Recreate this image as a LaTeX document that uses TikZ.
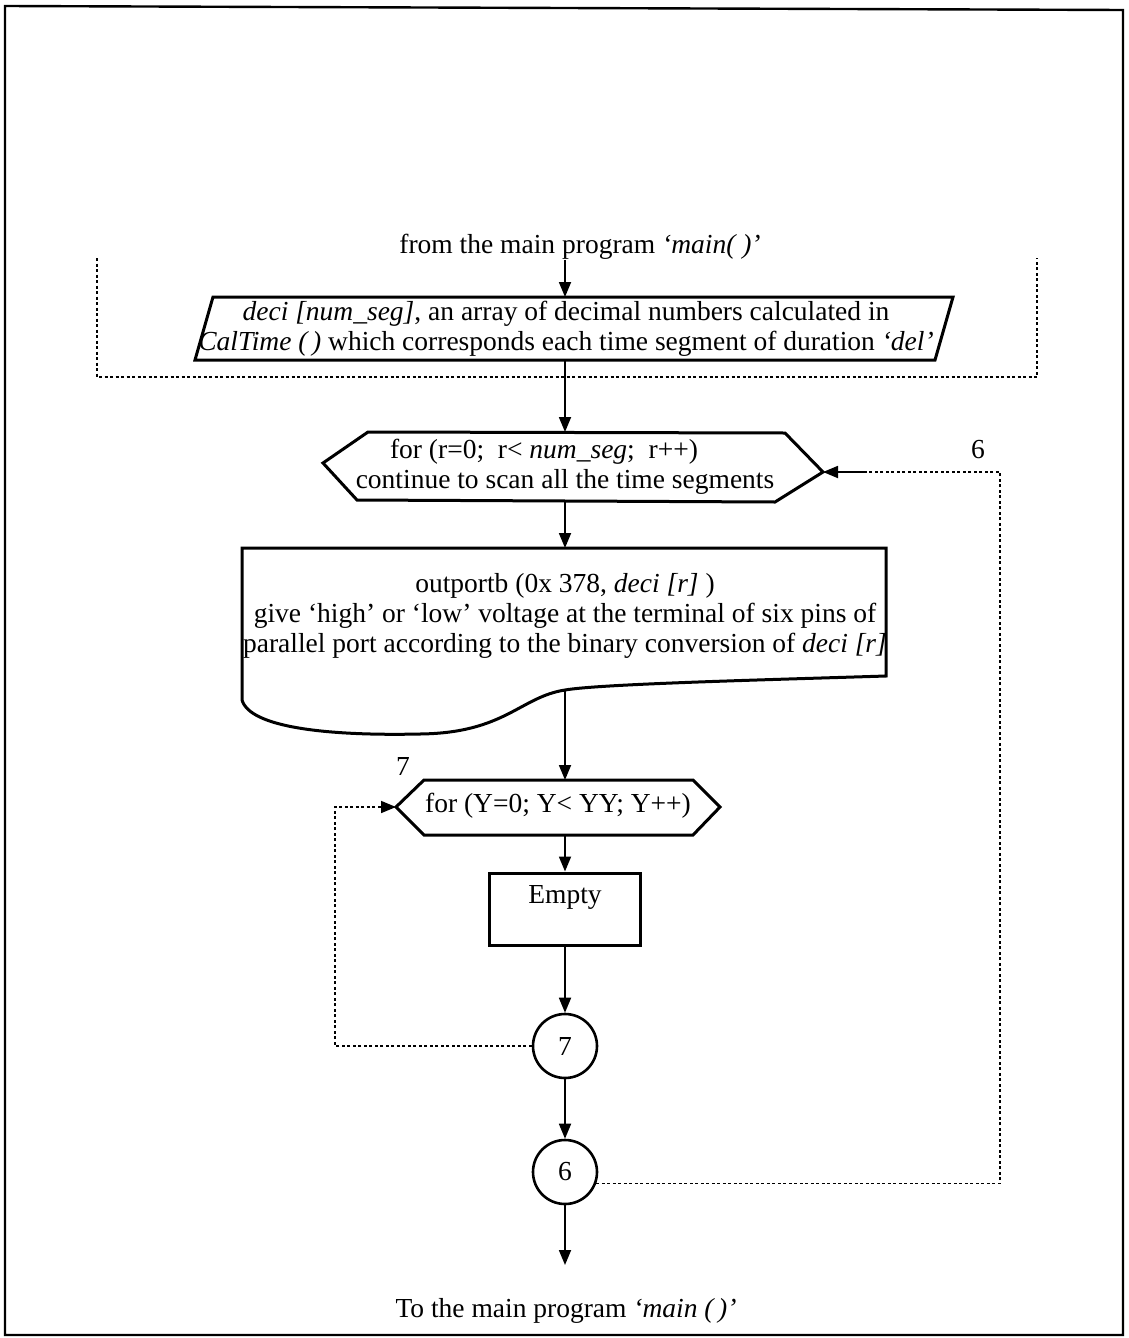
\documentclass[tikz,border=0pt]{standalone}
\usepackage{fontspec}
\setmainfont{Liberation Serif}
\usetikzlibrary{arrows.meta}
\begin{document}
\begin{tikzpicture}[x=1pt,y=-1pt,
  outline/.style={line width=3pt, line join=miter},
  flow/.style={line width=1.8pt, -{Triangle[length=15pt,width=12pt]}},
  loopline/.style={line width=1.6pt, dash pattern=on 3pt off 2.5pt},
  txt/.style={font=\fontsize{27.5}{30}\selectfont, align=center, inner sep=0pt},
  conn/.style={draw, circle, line width=2.6pt, minimum size=64pt, inner sep=0pt,
    font=\fontsize{27.5}{30}\selectfont},
  stepbox/.style={draw, rectangle, line width=3pt, minimum width=151pt, minimum height=72pt}]

\useasboundingbox (0,0) rectangle (1128,1338);
% page frame
\draw[line width=2.4pt] (5,6) -- (1123,10) -- (1123,1335) -- (5,1335) -- cycle;

% ---- input from main() ----
\node[txt] (src) at (580,247) {from the main program \textit{‘main(\ )’}};

% data block (parallelogram)
\coordinate (parN) at (565,297);
\coordinate (parS) at (565,360);
\draw[outline] (213,297) -- (953,297) -- (935,360) -- (195,360) -- cycle;
\node[txt] (arr) at (566,329) {\textit{deci [num\_seg]}, an array of decimal numbers calculated in\\
  \textit{CalTime (\,)} which corresponds each time segment of duration \textit{‘del’}};

% bracket around the incoming data
\draw[loopline] (97,258) -- (97,377) -- (1037,377) -- (1037,258);

% ---- outer loop (hexagon) ----
\coordinate (hexAN) at (565,432);
\coordinate (hexAS) at (565,501);
\coordinate (hexAE) at (823,472);
\draw[outline] (368,432) -- (785,433) -- (823,472) -- (775,502) -- (357,500) -- (323,463) -- cycle;
\node[txt] (loopA) at (565,467) {for (r=0;\ \ r< \textit{num\_seg};\ \ r++)\hspace*{42pt}\\
  continue to scan all the time segments};
\node[txt] (lab6) at (978,450) {6};

% ---- port output (document shape) ----
\coordinate (docN) at (565,548);
\coordinate (docS) at (565,690);
\draw[outline] (242,548) -- (886,548) -- (886,676)
  .. controls (760,680) and (600,684) .. (565,690)
  .. controls (520,697) and (505,733) .. (420,734)
  .. controls (330,736) and (250,728) .. (242,700) -- cycle;
\node[txt] (port) at (565,616) {outportb (0x 378, \textit{deci [r]} )\\
  give ‘high’ or ‘low’ voltage at the terminal of six pins of\\
  parallel port according to the binary conversion of \textit{deci [r]}};

% ---- inner delay loop (hexagon) ----
\coordinate (hexBN) at (565,780);
\coordinate (hexBS) at (565,835);
\coordinate (hexBW) at (396,807);
\draw[outline] (396,807) -- (424,780) -- (693,780) -- (720,807) -- (693,835) -- (424,835) -- cycle;
\node[txt] (loopB) at (558,806) {for (Y=0; Y< YY; Y++)};
\node[txt] (lab7) at (403,766) {7};

% empty loop body
\node[stepbox] (empty) at (565,909) {};
\node[txt] (emptytxt) at (565,897) {Empty};

% connectors (loop ends)
\node[conn] (c7) at (565,1046) {7};
\node[conn] (c6) at (565,1172) {6};

% exit
\coordinate (exit) at (565,1265);
\node[txt] (dst) at (566,1311) {To the main program \textit{‘main (\,)’}};

% ---- flow lines ----
\draw[flow] (src.south -| parN) -- (parN);
\draw[flow] (parS) -- (hexAN);
\draw[flow] (hexAS) -- (docN);
\draw[flow] (docS) -- (hexBN);
\draw[flow] (hexBS) -- (empty.north);
\draw[flow] (empty.south) -- (c7.north);
\draw[flow] (c7.south) -- (c6.north);
\draw[flow] (c6.south) -- (exit);

% loop-back lines
\coordinate (rail7) at (335,900);
\draw[loopline, -{Triangle[length=15pt,width=12pt]}] (c7.west) -| (rail7) |- (hexBW);
\coordinate (rail6) at (1000,900);
\coordinate (lead6) at (867,472);
\draw[loopline] (c6.-20) -| (rail6 |- lead6) -- (lead6);
\draw[flow] (lead6) -- (hexAE);
\end{tikzpicture}
\end{document}
